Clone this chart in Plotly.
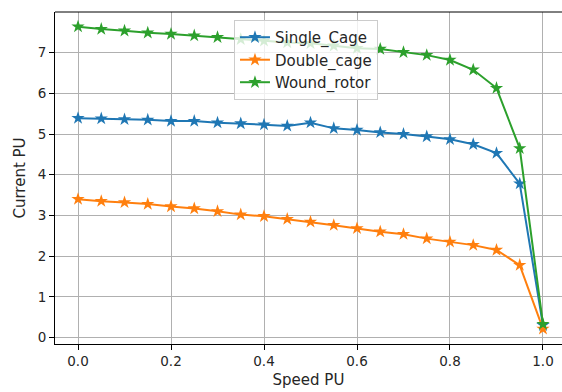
import plotly.graph_objects as go

speed = [0.0, 0.05, 0.1, 0.15, 0.2, 0.25, 0.3, 0.35, 0.4, 0.45, 0.5,
         0.55, 0.6, 0.65, 0.7, 0.75, 0.8, 0.85, 0.9, 0.95, 1.0]
single_cage = [5.39, 5.38, 5.36, 5.35, 5.32, 5.32, 5.28, 5.26, 5.23, 5.20, 5.28,
               5.14, 5.10, 5.04, 5.00, 4.94, 4.87, 4.75, 4.53, 3.78, 0.30]
double_cage = [3.40, 3.35, 3.32, 3.28, 3.22, 3.17, 3.10, 3.02, 2.98, 2.91, 2.84,
               2.76, 2.68, 2.60, 2.54, 2.43, 2.35, 2.27, 2.15, 1.78, 0.21]
wound_rotor = [7.64, 7.58, 7.54, 7.49, 7.46, 7.42, 7.38, 7.33, 7.29, 7.25, 7.23,
               7.17, 7.11, 7.09, 7.01, 6.94, 6.82, 6.58, 6.13, 4.65, 0.33]

series = [("Single_Cage", single_cage, "#1f77b4"),
          ("Double_cage", double_cage, "#ff7f0e"),
          ("Wound_rotor", wound_rotor, "#2ca02c")]

font = "DejaVu Sans"
fig = go.Figure()
for name, vals, col in series:
    fig.add_trace(go.Scatter(x=speed, y=vals, mode="lines+markers", name=name,
                             line=dict(color=col, width=2),
                             marker=dict(symbol="star", size=10, color=col,
                                         line=dict(width=0))))

fig.update_layout(
    width=562, height=392,
    margin=dict(l=55, r=0, t=12, b=48),
    paper_bgcolor="white", plot_bgcolor="white",
    font=dict(family=font, size=13.5, color="#262626"),
    showlegend=True,
    legend=dict(x=0.353, y=0.976, xanchor="left", yanchor="top",
                bgcolor="rgba(255,255,255,0.8)", bordercolor="#cccccc", borderwidth=1,
                font=dict(family=font, size=15, color="#262626")),
    xaxis=dict(range=[-0.0495, 1.0409], tickvals=[0, 0.2, 0.4, 0.6, 0.8, 1.0],
               tickformat=".1f", showgrid=True, gridcolor="#b0b0b0", gridwidth=0.8,
               showline=True, linecolor="black", linewidth=1, ticks="outside",
               ticklen=5, tickcolor="black", zeroline=False,
               title=dict(text="Speed PU", font=dict(size=15), standoff=6)),
    yaxis=dict(range=[-0.16, 8.0], tickvals=list(range(0, 8)),
               showgrid=True, gridcolor="#b0b0b0", gridwidth=0.8,
               showline=True, linecolor="black", linewidth=1, ticks="outside",
               ticklen=5, tickcolor="black", zeroline=False,
               title=dict(text="Current PU", font=dict(size=15), standoff=8)),
    shapes=[dict(type="line", xref="paper", yref="paper", x0=0, x1=1, y0=1, y1=1,
                 line=dict(color="black", width=1))],
)

fig.write_html("out.html")
